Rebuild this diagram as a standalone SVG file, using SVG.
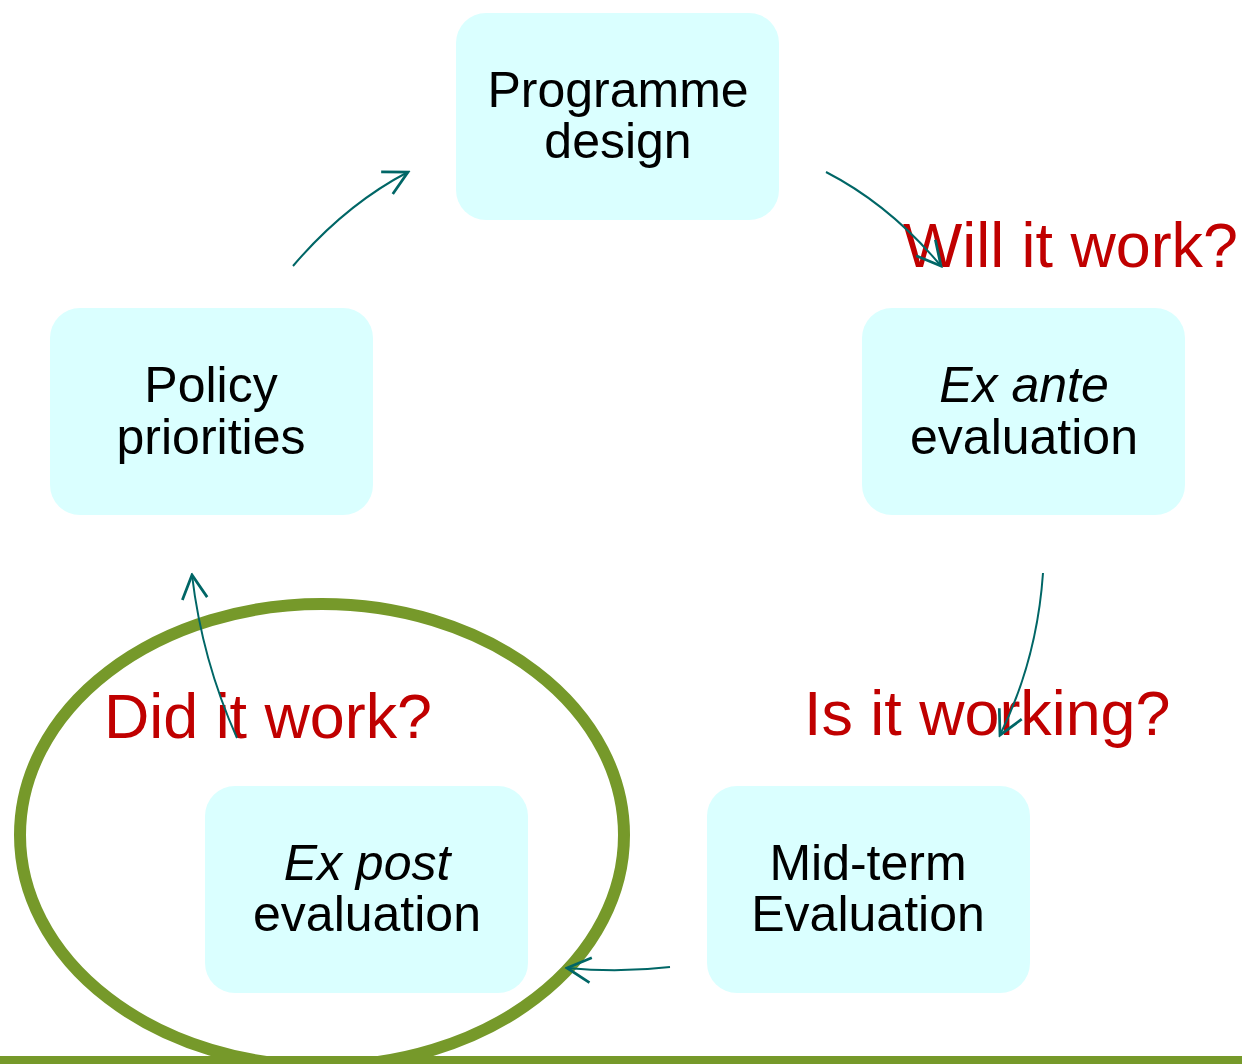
<svg xmlns="http://www.w3.org/2000/svg" width="1242" height="1064" viewBox="0 0 1242 1064">
<style>
.box{fill:#DAFFFF}
.t{font-family:"Liberation Sans",Arial,sans-serif;font-size:50px;fill:#000;text-anchor:middle}
.q{font-family:"Liberation Sans",Arial,sans-serif;font-size:62.8px;fill:#C00000}
.c{fill:none;stroke:#006666;stroke-width:2}
</style>
<defs>
<marker id="ah" markerUnits="userSpaceOnUse" markerWidth="30" markerHeight="30" viewBox="-22 -12 24 24" refX="0" refY="0" orient="auto">
<path d="M-19,-10 L0,0 L-19,10" fill="none" stroke="#006666" stroke-width="2.2"/>
</marker>
</defs>
<rect width="1242" height="1064" fill="#fff"/>
<g id="node-programme"><rect class="box" x="456" y="13" width="323" height="207" rx="30"/><text class="t" x="618" y="107">Programme</text><text class="t" x="618" y="158">design</text></g>
<g id="node-policy"><rect class="box" x="50" y="308" width="323" height="207" rx="30"/><text class="t" x="211" y="402">Policy</text><text class="t" x="211" y="454">priorities</text></g>
<g id="node-exante"><rect class="box" x="862" y="308" width="323" height="207" rx="30"/><text class="t" x="1024" y="402" font-style="italic">Ex ante</text><text class="t" x="1024" y="454">evaluation</text></g>
<g id="node-expost"><rect class="box" x="205" y="786" width="323" height="207" rx="30"/><text class="t" x="367" y="880" font-style="italic">Ex post</text><text class="t" x="367" y="931">evaluation</text></g>
<g id="node-midterm"><rect class="box" x="707" y="786" width="323" height="207" rx="30"/><text class="t" x="868" y="880">Mid-term</text><text class="t" x="868" y="931">Evaluation</text></g>
<g id="labels">
<text class="q" x="903" y="267">Will it work?</text>
<text class="q" x="804" y="735">Is it working?</text>
<text class="q" x="104" y="738">Did it work?</text>
</g>
<g id="highlight">
<ellipse cx="322" cy="835" rx="302" ry="231" fill="none" stroke="#76992A" stroke-width="12"/>
<rect x="0" y="1056" width="1242" height="8" fill="#76992A"/>
</g>
<g id="connectors">
<path class="c" d="M293,266 Q345,205 408,172" marker-end="url(#ah)"/>
<path class="c" d="M826,172 Q890,205 941,266" marker-end="url(#ah)"/>
<path class="c" d="M1043,573 Q1037,660 1000,735" marker-end="url(#ah)"/>
<path class="c" d="M670,967 Q620,973 567,968" marker-end="url(#ah)"/>
<path class="c" d="M237,738 Q202,660 192,575" marker-end="url(#ah)"/>
</g>
</svg>
